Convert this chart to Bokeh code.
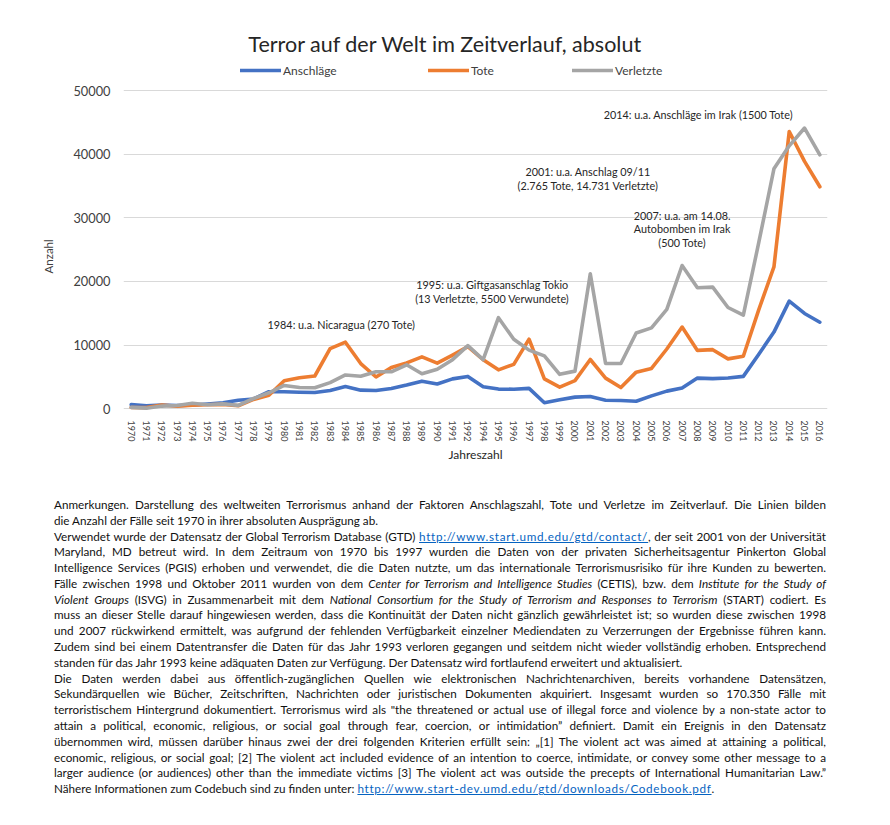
import math
from bokeh.plotting import figure
from bokeh.models import (FactorRange, Range1d, FixedTicker, Legend, LegendItem,
                          Label, Div, ColumnDataSource, Title)
from bokeh.layouts import column
from bokeh.embed import file_html
from bokeh.resources import INLINE

# ---------------- data ----------------
years = [str(y) for y in list(range(1970, 1993)) + list(range(1994, 2017))]

anschlaege = [651, 471, 568, 473, 581, 740, 923, 1319, 1526, 2662, 2662, 2586, 2544,
              2870, 3495, 2915, 2860, 3183, 3721, 4324, 3887, 4683, 5071,
              3456, 3081, 3058, 3197, 934, 1395, 1814, 1906, 1333, 1278, 1166, 2017,
              2758, 3242, 4805, 4721, 4826, 5076, 8522, 12036, 16903, 14965, 13587]

tote = [174, 173, 566, 370, 539, 617, 674, 456, 1459, 2100, 4400, 4851, 5136,
        9444, 10450, 7094, 4976, 6482, 7189, 8136, 7148, 8429, 9742,
        7690, 6103, 6966, 10924, 4688, 3393, 4403, 7729, 4805, 3317, 5743, 6331,
        9380, 12824, 9157, 9273, 7827, 8246, 15497, 22273, 43566, 38853, 34871]

verletzte = [212, 82, 409, 495, 865, 617, 756, 518, 1600, 2500, 3645, 3337, 3300,
             4100, 5300, 5100, 5800, 5800, 6900, 5500, 6200, 7700, 9900,
             7700, 14300, 10900, 9200, 8300, 5400, 5900, 21200, 7100, 7100, 11900, 12700,
             15600, 22500, 19000, 19100, 15900, 14700, 26000, 37700, 41300, 44100, 39900]

y_ticks = [0, 10000, 20000, 30000, 40000, 50000]

series_names = ["Anschläge", "Tote", "Verletzte"]
series_colors = ["#4472C4", "#ED7D31", "#A5A5A5"]

FONT = "Lato"
TXT = "#404040"

src = ColumnDataSource(dict(year=years, a=anschlaege, t=tote, v=verletzte))

p = figure(width=874, height=475, x_range=FactorRange(*years),
           y_range=Range1d(-600, 61000), output_backend="svg", title=None,
           toolbar_location=None, min_border_left=123, min_border_right=47,
           min_border_top=20, min_border_bottom=63)
p.outline_line_color = None
p.background_fill_color = "white"

renderers = []
for col, color in zip(["a", "t", "v"], series_colors):
    r = p.line("year", col, source=src, line_color=color, line_width=3.6,
               line_join="round", line_cap="round")
    renderers.append(r)

# axes
p.xgrid.grid_line_color = None
p.ygrid.ticker = FixedTicker(ticks=y_ticks)
p.ygrid.grid_line_color = "#D9D9D9"
p.ygrid.grid_line_width = 1

p.yaxis.ticker = FixedTicker(ticks=y_ticks)
p.yaxis.axis_line_color = None
p.yaxis.major_tick_line_color = None
p.yaxis.minor_tick_line_color = None
p.yaxis.major_label_standoff = 7
p.yaxis.major_label_text_font = FONT
p.yaxis.major_label_text_font_size = "12.8px"
p.yaxis.major_label_text_color = TXT

p.xaxis.axis_line_color = None
p.xaxis.major_tick_line_color = None
p.xaxis.major_label_orientation = "vertical"
p.xaxis.major_label_standoff = 2
p.xaxis.major_label_text_font = FONT
p.xaxis.major_label_text_font_size = "9px"
p.xaxis.major_label_text_color = TXT
p.xaxis.axis_label = "Jahreszahl"
p.xaxis.axis_label_text_font = FONT
p.xaxis.axis_label_text_font_size = "12px"
p.xaxis.axis_label_text_font_style = "normal"
p.xaxis.axis_label_text_color = "#262626"
p.xaxis.axis_label_standoff = 3

# y-axis title, centred on the 0..50000 span (side panel, shifted along the axis)
p.add_layout(Title(text="Anzahl", align="left", offset=139, standoff=32,
                   text_font=FONT, text_font_size="11.5px", text_font_style="normal",
                   text_color=TXT), "left")

# legend: one entry each, placed above the plotting area (frame-relative px)
legend_pos = [(117, 334), (305, 334), (449, 334)]
for name, r, loc in zip(series_names, renderers, legend_pos):
    lg = Legend(items=[LegendItem(label=name, renderers=[r])], location=loc,
                glyph_width=41, glyph_height=16, label_height=16, label_standoff=2,
                padding=0, margin=0, border_line_color=None, background_fill_alpha=0,
                label_text_font=FONT, label_text_font_size="12px", label_text_color=TXT,
                label_text_baseline="middle")
    p.add_layout(lg, "center")

# title
p.add_layout(Label(x=21.04, y=57233, text="Terror auf der Welt im Zeitverlauf, absolut",
                   text_align="center", text_baseline="middle", text_font=FONT,
                   text_font_size="21.5px", text_color="#262626"))

# annotations (x in category units, y in data units)
notes = [
    (14.24, 13200, "1984: u.a. Nicaragua (270 Tote)"),
    (24.10, 19500, "1995: u.a. Giftgasanschlag Tokio"),
    (24.10, 17300, "(13 Verletzte, 5500 Verwundete)"),
    (30.35, 37300, "2001: u.a. Anschlag 09/11"),
    (30.35, 35050, "(2.765 Tote, 14.731 Verletzte)"),
    (36.50, 30350, "2007: u.a. am 14.08."),
    (36.50, 28350, "Autobomben im Irak"),
    (36.50, 26150, "(500 Tote)"),
    (37.57, 46200, "2014: u.a. Anschläge im Irak (1500 Tote)"),
]
for x, y, t in notes:
    p.add_layout(Label(x=x, y=y, text=t, text_align="center", text_baseline="middle",
                       text_font=FONT, text_font_size="10.8px", text_color="#262626"))

# text block below
LINK = 'style="color:#0563C1;text-decoration:underline;letter-spacing:0.7px;"'
lines = [
    ("J", "Anmerkungen. Darstellung des weltweiten Terrorismus anhand der Faktoren Anschlagszahl, Tote und Verletze im Zeitverlauf. Die Linien bilden"),
    ("L", "die Anzahl der Fälle seit 1970 in ihrer absoluten Ausprägung ab."),
    ("J", f'Verwendet wurde der Datensatz der Global Terrorism Database (GTD) <span {LINK}>http://www.start.umd.edu/gtd/contact/</span>, der seit 2001 von der Universität'),
    ("J", "Maryland, MD betreut wird. In dem Zeitraum von 1970 bis 1997 wurden die Daten von der privaten Sicherheitsagentur Pinkerton Global"),
    ("J", "Intelligence Services (PGIS) erhoben und verwendet, die die Daten nutzte, um das internationale Terrorismusrisiko für ihre Kunden zu bewerten."),
    ("J", "Fälle zwischen 1998 und Oktober 2011 wurden von dem <i>Center for Terrorism and Intelligence Studies</i> (CETIS), bzw. dem <i>Institute for the Study of</i>"),
    ("J", "<i>Violent Groups</i> (ISVG) in Zusammenarbeit mit dem <i>National Consortium for the Study of Terrorism and Responses to Terrorism</i> (START) codiert. Es"),
    ("J", "muss an dieser Stelle darauf hingewiesen werden, dass die Kontinuität der Daten nicht gänzlich gewährleistet ist; so wurden diese zwischen 1998"),
    ("J", "und 2007 rückwirkend ermittelt, was aufgrund der fehlenden Verfügbarkeit einzelner Mediendaten zu Verzerrungen der Ergebnisse führen kann."),
    ("J", "Zudem sind bei einem Datentransfer die Daten für das Jahr 1993 verloren gegangen und seitdem nicht wieder vollständig erhoben. Entsprechend"),
    ("L", "standen für das Jahr 1993 keine adäquaten Daten zur Verfügung. Der Datensatz wird fortlaufend erweitert und aktualisiert."),
    ("J", "Die Daten werden dabei aus öffentlich-zugänglichen Quellen wie elektronischen Nachrichtenarchiven, bereits vorhandene Datensätzen,"),
    ("J", "Sekundärquellen wie Bücher, Zeitschriften, Nachrichten oder juristischen Dokumenten akquiriert. Insgesamt wurden so 170.350 Fälle mit"),
    ("J", "terroristischem Hintergrund dokumentiert. Terrorismus wird als &quot;the threatened or actual use of illegal force and violence by a non-state actor to"),
    ("J", "attain a political, economic, religious, or social goal through fear, coercion, or intimidation” definiert. Damit ein Ereignis in den Datensatz"),
    ("J", "übernommen wird, müssen darüber hinaus zwei der drei folgenden Kriterien erfüllt sein: „[1] The violent act was aimed at attaining a political,"),
    ("J", "economic, religious, or social goal; [2] The violent act included evidence of an intention to coerce, intimidate, or convey some other message to a"),
    ("J", "larger audience (or audiences) other than the immediate victims [3] The violent act was outside the precepts of International Humanitarian Law.”"),
    ("L", f'Nähere Informationen zum Codebuch sind zu finden unter: <span {LINK}>http://www.start-dev.umd.edu/gtd/downloads/Codebook.pdf</span>.'),
]
rows = []
for kind, txt in lines:
    if kind == "J":
        st = "text-align:justify;text-align-last:justify;white-space:nowrap;"
    else:
        st = "text-align:left;white-space:nowrap;"
    rows.append(f'<div style="{st}">{txt}</div>')
html = ('<div style="box-sizing:content-box;font-family:Lato;font-size:11.7px;color:#111;'
        'line-height:15.78px;padding-left:54px;padding-top:22px;width:772px;">'
        + "".join(rows) + "</div>")
div = Div(text=html, width=874, height=330, margin=(0, 0, 0, 0))

layout = column(p, div, spacing=0)
open("out.html", "w").write(file_html(layout, INLINE))
